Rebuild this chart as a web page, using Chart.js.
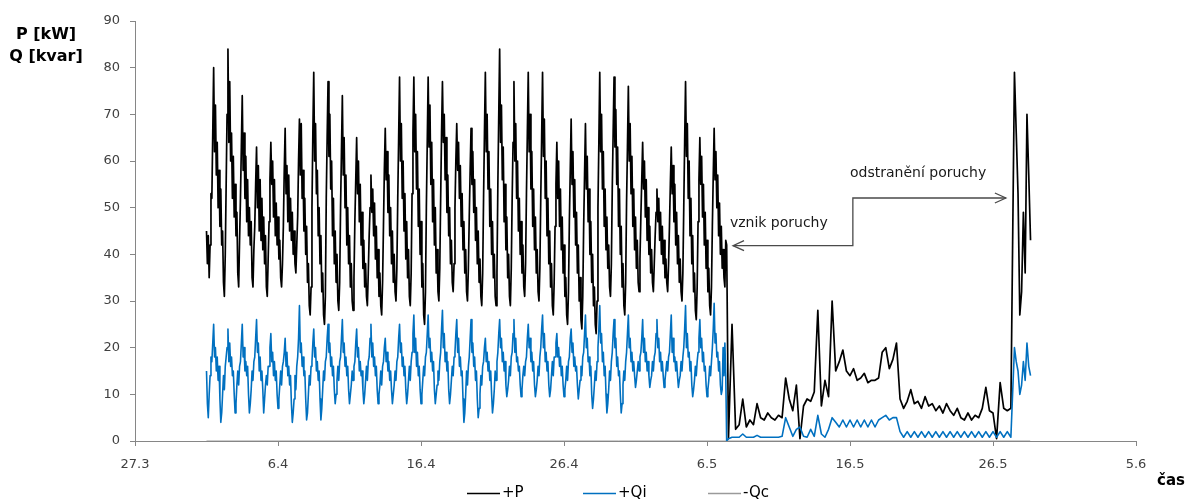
<!DOCTYPE html>
<html>
<head>
<meta charset="utf-8">
<script src="https://cdn.jsdelivr.net/npm/chart.js@4.4.1/dist/chart.umd.min.js"></script>
<style>
  html, body { margin: 0; padding: 0; background: #fff; }
  #wrap { position: relative; width: 1187px; height: 502px; }
</style>
</head>
<body>
<div id="wrap"><canvas id="graf" width="1187" height="502"></canvas></div>
<script>
// osa x: dny od 27.3. (popisky po 10 dnech)
const tickDays = [0, 10, 20, 30, 40, 50, 60, 70];
const tickLabels = ['27.3', '6.4', '16.4', '26.4', '6.5', '16.5', '26.5', '5.6'];

// normalni provoz - vzorky po 1.5 h (16 za den), od dne 5.0
const mainStart = 5.0;
const mainStep = 0.0625;
const pMain = [45, 38, 44, 35, 42, 53,
  52, 66, 80, 62, 72, 57, 64, 50, 58, 46, 54, 42, 45, 34, 31, 40,
  55, 70, 84, 64, 77, 60, 66, 52, 61, 48, 55, 44, 49, 36, 33, 43,
  52, 63, 74, 58, 66, 52, 61, 47, 56, 44, 50, 42, 47, 35, 33, 41,
  46, 55, 63, 50, 59, 45, 56, 43, 52, 41, 48, 38, 44, 33, 31, 39,
  47, 56, 64, 55, 60, 48, 56, 44, 51, 42, 48, 39, 43, 35, 33, 38,
  46, 58, 67, 53, 59, 47, 57, 45, 52, 43, 49, 40, 45, 38, 36, 42,
  48, 60, 69, 57, 68, 52, 58, 45, 52, 40, 46, 34, 38, 29, 27, 33,
  50, 66, 79, 60, 68, 53, 58, 44, 50, 38, 44, 32, 36, 27, 25, 31,
  52, 65, 77, 61, 70, 54, 60, 44, 52, 38, 45, 34, 40, 30, 28, 34,
  50, 62, 74, 57, 65, 50, 57, 42, 50, 38, 44, 33, 38, 30, 28, 35,
  47, 56, 65, 53, 60, 47, 55, 42, 49, 37, 43, 33, 38, 31, 29, 36,
  44, 50, 57, 49, 54, 44, 51, 39, 46, 35, 41, 31, 36, 29, 27, 34,
  46, 58, 67, 56, 62, 49, 57, 44, 50, 38, 45, 34, 40, 32, 30, 37,
  52, 65, 78, 60, 68, 52, 60, 45, 53, 39, 47, 35, 41, 31, 29, 36,
  53, 66, 78, 62, 70, 54, 62, 46, 54, 40, 47, 33, 38, 27, 25, 32,
  50, 64, 78, 63, 72, 55, 64, 47, 56, 42, 50, 36, 41, 32, 30, 37,
  52, 66, 77, 64, 70, 56, 65, 49, 57, 44, 50, 38, 43, 34, 32, 38,
  50, 60, 68, 58, 64, 52, 59, 46, 53, 41, 47, 36, 41, 32, 30, 37,
  48, 58, 67, 55, 62, 49, 56, 43, 50, 38, 45, 34, 39, 31, 29, 36,
  52, 66, 79, 62, 70, 54, 62, 46, 54, 40, 47, 35, 40, 31, 29, 36,
  55, 70, 84, 64, 72, 56, 63, 47, 55, 41, 48, 35, 40, 31, 29, 37,
  52, 64, 77, 60, 68, 52, 60, 45, 52, 40, 47, 36, 42, 33, 31, 38,
  53, 66, 79, 62, 70, 54, 62, 46, 54, 41, 48, 36, 41, 32, 30, 37,
  52, 65, 79, 61, 69, 52, 60, 44, 52, 38, 45, 33, 38, 29, 27, 34,
  46, 55, 64, 52, 60, 46, 54, 41, 48, 36, 42, 31, 35, 27, 25, 32,
  47, 58, 69, 55, 62, 48, 56, 42, 49, 36, 42, 30, 35, 26, 24, 31,
  46, 57, 68, 54, 61, 47, 54, 40, 47, 34, 40, 29, 33, 25, 23, 30,
  50, 64, 79, 62, 70, 54, 62, 46, 54, 41, 48, 37, 42, 33, 31, 38,
  54, 66, 78, 63, 71, 55, 63, 46, 54, 40, 46, 33, 38, 29, 27, 34,
  51, 63, 76, 60, 68, 53, 61, 46, 54, 41, 48, 37, 43, 34, 32, 39,
  48, 56, 64, 54, 60, 48, 56, 43, 50, 40, 46, 36, 41, 34, 32, 38,
  44, 49, 54, 47, 52, 43, 49, 40, 46, 38, 43, 35, 39, 34, 32, 38,
  46, 55, 63, 53, 59, 47, 55, 42, 49, 38, 44, 34, 39, 32, 30, 36,
  50, 64, 77, 61, 68, 52, 60, 44, 52, 38, 44, 32, 36, 28, 26, 33,
  47, 56, 65, 55, 61, 48, 55, 42, 49, 37, 43, 32, 37, 29, 27, 33,
  46, 57, 67, 56, 62, 50, 57, 44, 51, 40, 46, 37, 41, 35, 33, 43,
  42];
const qiMain = [15, 8, 5, 10, 14, 18,
  17, 21, 25, 18, 20, 15, 18, 13, 16, 9, 4, 6, 10, 14, 11, 16,
  18, 20, 24, 17, 21, 16, 18, 14, 15, 10, 6, 8, 12, 15, 12, 16,
  17, 21, 25, 18, 20, 15, 17, 14, 16, 10, 6, 8, 11, 15, 13, 17,
  18, 22, 26, 19, 21, 15, 18, 13, 15, 11, 6, 9, 12, 14, 12, 16,
  16, 20, 23, 17, 19, 14, 17, 13, 15, 10, 7, 9, 12, 15, 12, 16,
  17, 19, 22, 16, 19, 14, 16, 12, 14, 8, 4, 6, 9, 14, 11, 16,
  18, 22, 29, 19, 21, 16, 18, 14, 15, 9, 4.5, 6, 10, 14, 12, 16,
  17, 21, 24, 18, 20, 15, 17, 13, 15, 9, 4.5, 7, 11, 15, 13, 17,
  18, 22, 25, 19, 21, 16, 18, 14, 16, 11, 8, 10, 13, 16, 13, 17,
  18, 22, 26, 19, 21, 16, 18, 14, 16, 11, 8, 10, 12, 15, 13, 16,
  17, 21, 24, 18, 20, 15, 17, 14, 15, 11, 8, 10, 13, 16, 13, 17,
  18, 22, 25, 18, 21, 16, 18, 14, 16, 11, 8, 10, 12, 15, 12, 16,
  17, 20, 22, 17, 19, 15, 17, 13, 15, 11, 8, 10, 12, 15, 13, 17,
  18, 22, 25, 19, 21, 16, 18, 14, 16, 11, 8, 10, 13, 16, 13, 17,
  19, 23, 27, 19, 22, 16, 19, 14, 16, 11, 8, 10, 13, 16, 14, 18,
  19, 23, 27, 20, 22, 17, 19, 15, 17, 11, 8, 10, 12, 15, 13, 17,
  19, 24, 28, 20, 23, 17, 19, 15, 17, 11, 8, 10, 13, 16, 14, 18,
  19, 23, 26, 19, 22, 16, 18, 14, 15, 9, 4, 6, 10, 15, 12, 16,
  18, 22, 26, 19, 21, 16, 18, 13, 15, 9, 5, 7, 10, 14, 12, 16,
  17, 20, 22, 17, 19, 15, 17, 13, 15, 10, 6, 8, 11, 15, 13, 17,
  19, 23, 26, 20, 22, 17, 19, 15, 17, 12, 9.5, 11, 13, 16, 14, 18,
  19, 23, 26, 19, 22, 17, 18, 15, 16, 12, 9.5, 11, 14, 16, 14, 17,
  18, 22, 25, 20, 22, 17, 19, 15, 17, 12, 9.5, 11, 13, 16, 14, 18,
  20, 24, 27, 20, 23, 17, 19, 15, 17, 12, 9.5, 11, 14, 17, 14, 18,
  18, 21, 23, 18, 20, 16, 18, 14, 16, 12, 9.5, 11, 13, 16, 13, 17,
  18, 22, 24, 19, 21, 16, 18, 15, 16, 12, 9, 11, 13, 16, 14, 18,
  19, 23, 27, 20, 22, 17, 18, 14, 16, 10, 7, 9, 12, 15, 13, 17,
  20, 24, 29, 21, 23, 17, 19, 14, 16, 10, 6, 8, 11, 15, 13, 17,
  19, 23, 26, 20, 22, 16, 18, 14, 15, 10, 6, 8, 12, 15, 13, 17,
  19, 23, 27, 20, 22, 17, 19, 15, 17, 14, 11.5, 13, 15, 17, 15, 18,
  19, 22, 26, 19, 22, 17, 19, 15, 17, 14, 11.5, 13, 14, 17, 15, 18,
  19, 23, 26, 20, 22, 17, 19, 15, 17, 14, 11.5, 13, 15, 17, 15, 18,
  19, 23, 27, 19, 22, 17, 18, 15, 17, 14, 11.5, 13, 14, 17, 15, 18,
  20, 24, 29, 20, 23, 18, 19, 15, 17, 12, 9.5, 11, 13, 16, 14, 17,
  19, 22, 26, 20, 22, 17, 19, 15, 16, 12, 9.5, 11, 13, 16, 14, 17,
  20, 24, 29.5, 21, 23, 18, 19, 15, 17, 12, 10, 11, 20, 14, 21, 14,
  0];

// porucha - vzorky po 6 h, od dne 41.5
const faultStart = 41.5;
const faultStep = 0.25;
const pFault = [0.5, 25, 2.5, 3.5, 9, 3, 4.5, 3.5, 8, 5,
  4.5, 6, 5, 4.5, 5.5, 5, 13.5, 9, 6.5, 12,
  0.5, 7.5, 9, 8.5, 10.5, 28, 7.5, 13, 9.5, 30,
  15, 17, 19.5, 15, 14, 15.5, 13, 13.5, 14.5, 12.5,
  13, 13, 13.5, 19, 20, 15.5, 17.5, 21, 9, 7,
  8.5, 11, 8, 8.5, 7, 9.5, 7.5, 8, 6.5, 7.5,
  6, 8, 6.5, 5.5, 7, 5, 4.5, 6, 4.5, 5.5,
  5, 7, 11.5, 6.5, 6, 0.5, 12.5, 7, 6.5, 7];
const qiFault = [0.5, 0.8, 0.8, 0.8, 1.5, 0.8, 0.8, 0.8, 1.2, 0.8,
  0.8, 0.8, 0.8, 0.8, 0.8, 1, 5, 3, 1, 2.5,
  3, 1, 0.8, 2.5, 1, 5.5, 1.5, 0.8, 2.5, 5,
  4, 3, 4.5, 3, 4.5, 3, 4.5, 3, 4.5, 3,
  4.5, 3, 4.5, 5, 5.5, 4.5, 5, 5, 2, 0.8,
  2, 0.8, 2, 0.8, 2, 0.8, 2, 0.8, 2, 0.8,
  2, 0.8, 2, 0.8, 2, 0.8, 2, 0.8, 2, 0.8,
  2, 0.8, 2, 0.8, 2, 0.8, 2, 0.8, 2, 0.8];

// po odstraneni poruchy - vzorky po 3 h, od dne 61.5
const endStart = 61.5;
const endStep = 0.125;
const pEnd = [79, 66, 53, 27, 32, 49, 36, 70, 57, 43];
const qiEnd = [20, 17, 15, 10, 12, 17, 13, 21, 16, 14];

// -Qc (kapacitni) - nulova po cele obdobi
const qcDays = [5.0, 62.6];
const qcValues = [0, 0];

// popisky sipek (den, hodnota)
const faultNote = { text: 'vznik poruchy', day: 41.6, value: 46.7 };
const repairNote = { text: 'odstranění poruchy', day: 50.0, value: 57.4 };
const arrowPath = [[41.82, 41.85], [50.2, 41.85], [50.2, 52.07], [60.9, 52.07]];

// ________________________________________________________________

function toPoints(start, step, values) {
    return values.map((v, i) => ({ x: start + i * step, y: v }));
}

function segments(parts) {
    let pts = [];
    parts.forEach(p => { pts = pts.concat(toPoints(p[0], p[1], p[2])); });
    return pts;
}

const pData = segments([[mainStart, mainStep, pMain], [faultStart, faultStep, pFault], [endStart, endStep, pEnd]]);
const qiData = segments([[mainStart, mainStep, qiMain], [faultStart, faultStep, qiFault], [endStart, endStep, qiEnd]]);
const qcData = qcDays.map((d, i) => ({ x: d, y: qcValues[i] }));

const FONT = '"DejaVu Sans", sans-serif';

// kresleni popisku, sipek a legendy
const extras = {
    id: 'extras',
    afterDraw(chart) {
        const ctx = chart.ctx;
        const xs = chart.scales.x;
        const ys = chart.scales.y;
        ctx.save();

        // nazvy os
        ctx.fillStyle = '#000';
        ctx.font = 'bold 16px ' + FONT;
        ctx.textAlign = 'center';
        ctx.textBaseline = 'middle';
        ctx.fillText('P [kW]', 46, 35);
        ctx.fillText('Q [kvar]', 46, 57);
        ctx.font = 'bold 15px ' + FONT;
        ctx.textAlign = 'left';
        ctx.fillText('čas', 1157, 481);

        // popisky poruchy
        ctx.font = '14px ' + FONT;
        ctx.fillStyle = '#1a1a1a';
        ctx.fillText(faultNote.text, xs.getPixelForValue(faultNote.day), ys.getPixelForValue(faultNote.value));
        ctx.fillText(repairNote.text, xs.getPixelForValue(repairNote.day), ys.getPixelForValue(repairNote.value));

        // sipky
        const pts = arrowPath.map(p => [xs.getPixelForValue(p[0]), ys.getPixelForValue(p[1])]);
        ctx.strokeStyle = '#4a4a4a';
        ctx.lineWidth = 1.3;
        ctx.beginPath();
        ctx.moveTo(pts[0][0], pts[0][1]);
        for (let i = 1; i < pts.length; i++) ctx.lineTo(pts[i][0], pts[i][1]);
        ctx.stroke();
        const a = pts[0], b = pts[pts.length - 1];
        ctx.beginPath();
        ctx.moveTo(a[0] + 11, a[1] - 5); ctx.lineTo(a[0], a[1]); ctx.lineTo(a[0] + 11, a[1] + 5);
        ctx.moveTo(b[0] - 11, b[1] - 5); ctx.lineTo(b[0], b[1]); ctx.lineTo(b[0] - 11, b[1] + 5);
        ctx.stroke();

        // legenda
        const legendX = [467, 583, 708];
        ctx.font = '15px ' + FONT;
        ctx.fillStyle = '#000';
        chart.data.datasets.forEach((ds) => {
            const x = legendX[ds.legendPos];
            ctx.strokeStyle = ds.borderColor;
            ctx.lineWidth = 1.3;
            ctx.beginPath();
            ctx.moveTo(x, 493.5); ctx.lineTo(x + 33, 493.5);
            ctx.stroke();
            ctx.fillText(ds.label, x + 35, 493);
        });
        ctx.restore();
    }
};

const graf = new Chart(document.getElementById('graf').getContext('2d'), {
    type: 'line',
    data: {
        datasets: [
            { label: '-Qc', legendPos: 2, data: qcData, borderColor: '#9a9a9a', borderWidth: 1, order: 3 },
            { label: '+P', legendPos: 0, data: pData, borderColor: '#000000', borderWidth: 1.7, order: 2 },
            { label: '+Qi', legendPos: 1, data: qiData, borderColor: '#0070c0', borderWidth: 1.6, order: 1 },
        ],
    },
    options: {
        responsive: false,
        animation: false,
        events: [],
        parsing: false,
        devicePixelRatio: 1,
        layout: { padding: { left: 0, right: 51, top: 21, bottom: 0 } },
        elements: {
            point: { radius: 0 },
            line: { tension: 0, borderJoinStyle: 'round', fill: false },
        },
        plugins: {
            legend: { display: false },
            tooltip: { enabled: false },
        },
        scales: {
            x: {
                type: 'linear',
                min: 0,
                max: 70,
                afterBuildTicks: (s) => { s.ticks = tickDays.map(v => ({ value: v })); },
                afterFit: (s) => { s.height = 61; },
                ticks: {
                    autoSkip: false,
                    maxRotation: 0,
                    padding: 11,
                    color: '#404040',
                    font: { family: FONT, size: 13 },
                    callback: (v) => tickLabels[tickDays.indexOf(v)],
                },
                grid: { drawOnChartArea: false, drawTicks: true, tickLength: 5, color: '#868686' },
                border: { color: '#868686' },
            },
            y: {
                min: 0,
                max: 90,
                afterFit: (s) => { s.width = 135; },
                ticks: {
                    stepSize: 10,
                    padding: 10,
                    color: '#404040',
                    font: { family: FONT, size: 13 },
                },
                grid: { drawOnChartArea: false, drawTicks: true, tickLength: 5, color: '#868686' },
                border: { color: '#868686' },
            },
        },
    },
    plugins: [extras],
});
</script>
</body>
</html>
